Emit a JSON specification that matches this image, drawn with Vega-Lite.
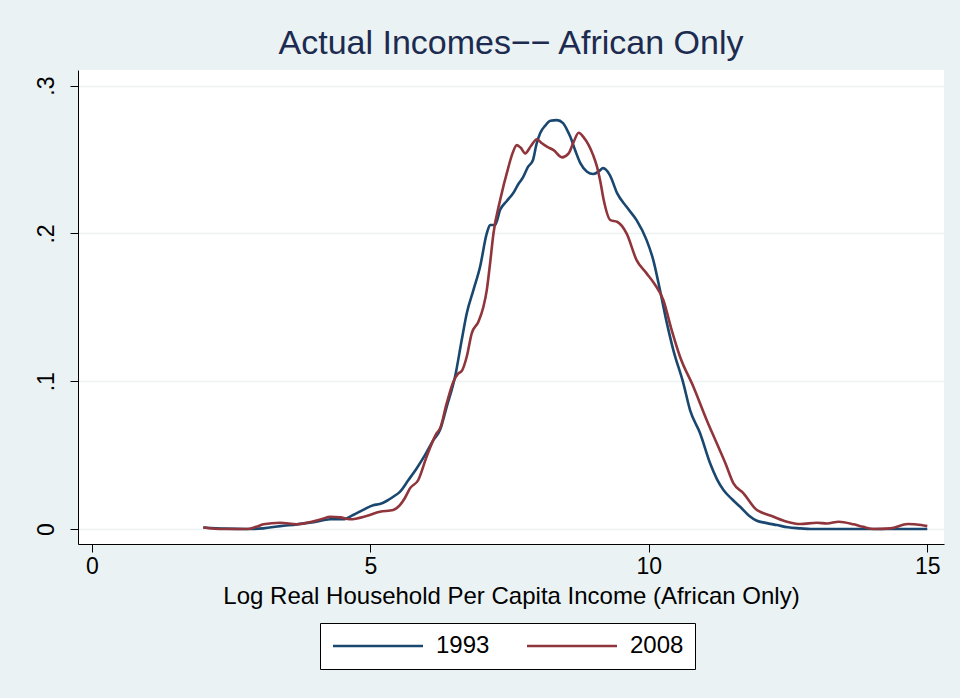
{
  "$schema": "https://vega.github.io/schema/vega-lite/v6.json",
  "width": 866,
  "height": 474,
  "autosize": {"type": "none"},
  "padding": {"left": 78, "top": 70, "right": 16, "bottom": 154},
  "background": "#eaf2f3",
  "title": {
    "text": "Actual Incomes−− African Only",
    "font": "Liberation Sans",
    "fontSize": 34,
    "fontWeight": "normal",
    "color": "#1c2b4f",
    "anchor": "middle",
    "baseline": "alphabetic",
    "offset": -18
  },
  "datasets": {
    "d1993": [[2.0,0.0011],[2.4,0.0003],[2.78,0.0],[3.08,0.0005],[3.38,0.002],[3.68,0.0032],[3.98,0.0047],[4.28,0.0066],[4.51,0.0066],[4.69,0.0095],[4.87,0.013],[5.05,0.0162],[5.17,0.0169],[5.29,0.019],[5.41,0.0219],[5.53,0.0252],[5.68,0.033],[5.83,0.041],[5.98,0.05],[6.13,0.0602],[6.25,0.067],[6.37,0.0827],[6.52,0.103],[6.64,0.1279],[6.73,0.1459],[6.85,0.1617],[6.97,0.1775],[7.09,0.2],[7.15,0.2057],[7.24,0.2057],[7.33,0.216],[7.45,0.222],[7.56,0.227],[7.65,0.233],[7.74,0.238],[7.83,0.245],[7.92,0.2497],[7.98,0.26],[8.05,0.268],[8.14,0.273],[8.23,0.2763],[8.35,0.2767],[8.46,0.2747],[8.52,0.271],[8.59,0.2654],[8.68,0.256],[8.77,0.2476],[8.89,0.2418],[9.0,0.2402],[9.1,0.242],[9.18,0.2442],[9.3,0.2395],[9.43,0.2273],[9.6,0.218],[9.78,0.209],[9.96,0.1955],[10.08,0.182],[10.2,0.1617],[10.32,0.14],[10.44,0.1211],[10.62,0.0986],[10.74,0.0805],[10.92,0.0648],[11.1,0.0445],[11.22,0.034],[11.34,0.0264],[11.5,0.02],[11.64,0.0151],[11.8,0.009],[11.94,0.0056],[12.1,0.0042],[12.3,0.0027],[12.5,0.0012],[12.72,0.0005],[12.9,0.0],[13.5,0.0],[14.0,0.0],[14.5,0.0],[15.0,0.0]],
    "d2008": [[2.0,0.0011],[2.36,0.0],[2.78,0.0],[2.95,0.0015],[3.08,0.0032],[3.38,0.0043],[3.68,0.0032],[3.98,0.0052],[4.13,0.0068],[4.28,0.0083],[4.46,0.0079],[4.63,0.0066],[4.93,0.0088],[5.17,0.0117],[5.41,0.0129],[5.53,0.0162],[5.62,0.021],[5.71,0.0275],[5.86,0.0332],[6.01,0.049],[6.19,0.0648],[6.25,0.068],[6.37,0.085],[6.49,0.0997],[6.58,0.1053],[6.64,0.1069],[6.73,0.1166],[6.82,0.1324],[6.94,0.1403],[7.03,0.1504],[7.09,0.1617],[7.15,0.18],[7.21,0.2],[7.33,0.2226],[7.48,0.2451],[7.55,0.254],[7.63,0.2598],[7.7,0.258],[7.78,0.2542],[7.88,0.259],[7.99,0.2637],[8.08,0.261],[8.17,0.2587],[8.29,0.2564],[8.44,0.2515],[8.56,0.2542],[8.65,0.262],[8.74,0.2681],[8.83,0.265],[8.92,0.2598],[9.0,0.253],[9.07,0.2451],[9.13,0.235],[9.19,0.2226],[9.31,0.209],[9.43,0.2079],[9.6,0.2],[9.78,0.182],[9.96,0.173],[10.1,0.166],[10.26,0.155],[10.4,0.136],[10.56,0.1166],[10.8,0.0963],[11.04,0.0737],[11.22,0.058],[11.38,0.044],[11.52,0.0309],[11.7,0.0242],[11.94,0.0129],[12.0,0.0117],[12.24,0.0083],[12.48,0.005],[12.72,0.0034],[13.02,0.0043],[13.2,0.0038],[13.41,0.005],[13.68,0.0032],[13.85,0.0015],[14.04,0.0],[14.34,0.0005],[14.65,0.0034],[14.89,0.0027],[15.0,0.002]]
  },
  "layer": [
    {
      "data": {"name": "d1993"},
      "transform": [
        {"calculate": "datum[0]", "as": "income"},
        {"calculate": "datum[1]", "as": "density"},
        {"calculate": "'1993'", "as": "year"}
      ],
      "mark": {"type": "line", "strokeWidth": 2.6, "interpolate": "monotone"},
      "encoding": {
        "x": {"field": "income", "type": "quantitative"},
        "y": {"field": "density", "type": "quantitative"},
        "color": {"field": "year", "type": "nominal"}
      }
    },
    {
      "data": {"name": "d2008"},
      "transform": [
        {"calculate": "datum[0]", "as": "income"},
        {"calculate": "datum[1]", "as": "density"},
        {"calculate": "'2008'", "as": "year"}
      ],
      "mark": {"type": "line", "strokeWidth": 2.6, "interpolate": "monotone"},
      "encoding": {
        "x": {"field": "income", "type": "quantitative"},
        "y": {"field": "density", "type": "quantitative"},
        "color": {"field": "year", "type": "nominal"}
      }
    }
  ],
  "encoding": {
    "x": {
      "field": "income",
      "type": "quantitative",
      "scale": {"domain": [-0.25, 15.3], "nice": false, "zero": false},
      "axis": {
        "title": "Log Real Household Per Capita Income (African Only)",
        "values": [0, 5, 10, 15],
        "grid": false,
        "format": "d",
        "labelFlush": false,
        "titlePadding": 6
      }
    },
    "y": {
      "field": "density",
      "type": "quantitative",
      "scale": {"domain": [-0.0101, 0.3106], "nice": false, "zero": false},
      "axis": {
        "title": null,
        "values": [0, 0.1, 0.2, 0.3],
        "grid": true,
        "gridColor": "#eaf2f3",
        "gridWidth": 1.5,
        "labelAngle": -90,
        "labelAlign": "center",
        "labelBaseline": "bottom",
        "labelPadding": 12,
        "labelExpr": "datum.value == 0 ? '0' : replace(format(datum.value, '.1f'), '0.', '.')"
      }
    },
    "color": {
      "field": "year",
      "type": "nominal",
      "scale": {"domain": ["1993", "2008"], "range": ["#1a476f", "#90353b"]},
      "legend": {
        "orient": "none",
        "legendX": 242,
        "legendY": 553,
        "direction": "horizontal",
        "title": null,
        "symbolType": "M-1,0H8",
        "symbolSize": 400,
        "symbolStrokeWidth": 2.6,
        "labelFont": "Liberation Sans",
        "labelFontSize": 24,
        "labelColor": "black",
        "labelOffset": 81,
        "columnPadding": 31,
        "fillColor": "white",
        "strokeColor": "black",
        "padding": 11,
        "cornerRadius": 0
      }
    }
  },
  "config": {
    "view": {"fill": "white", "stroke": null},
    "axis": {
      "labelFont": "Liberation Sans",
      "labelFontSize": 23,
      "labelColor": "black",
      "titleFont": "Liberation Sans",
      "titleFontSize": 24,
      "titleFontWeight": "normal",
      "titleColor": "black",
      "titlePadding": 3,
      "domainColor": "black",
      "domainWidth": 1,
      "tickColor": "black",
      "tickSize": 8,
      "labelPadding": 3
    }
  }
}
